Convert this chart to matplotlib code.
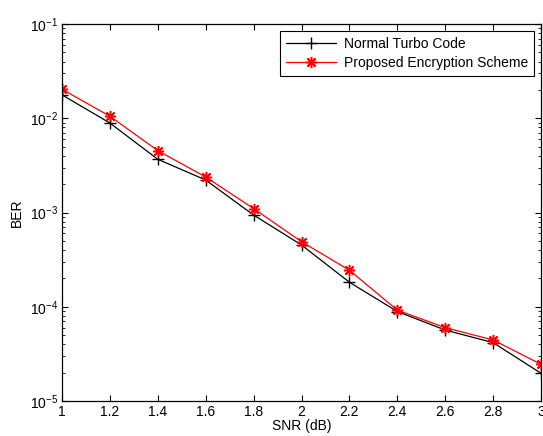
import matplotlib
matplotlib.use("Agg")
import matplotlib.pyplot as plt
import numpy as np
from matplotlib.ticker import LogLocator, FixedLocator, NullLocator

plt.rcParams['font.family'] = ['Liberation Sans', 'DejaVu Sans']

snr = [1.0, 1.2, 1.4, 1.6, 1.8, 2.0, 2.2, 2.4, 2.6, 2.8, 3.0]
ber_turbo = [1.77e-2, 8.9e-3, 3.67e-3, 2.21e-3, 9.4e-4, 4.52e-4, 1.82e-4, 8.9e-5, 5.66e-5, 4.16e-5, 1.97e-5]
ber_proposed = [2.03e-2, 1.05e-2, 4.53e-3, 2.38e-3, 1.1e-3, 4.9e-4, 2.44e-4, 9.2e-5, 6.0e-5, 4.44e-5, 2.45e-5]
xticks = [1, 1.2, 1.4, 1.6, 1.8, 2, 2.2, 2.4, 2.6, 2.8, 3]
xtick_labels = ['1', '1.2', '1.4', '1.6', '1.8', '2', '2.2', '2.4', '2.6', '2.8', '3']

fig = plt.figure(figsize=(5.43, 4.36), dpi=100)
ax = fig.add_axes([62/543, 1-401/436, 479/543, 377/436])

ax.semilogy(snr, ber_turbo, color='black', marker='+', markersize=8, markeredgewidth=1.0,
            linewidth=0.9, label='Normal Turbo Code')
ax.semilogy(snr, ber_proposed, color='red', marker=(8, 2, 0), markersize=8, markeredgewidth=1.1,
            linewidth=0.9, label='Proposed Encryption Scheme')

ax.set_xlim(1, 3)
ax.set_ylim(1e-5, 1e-1)
ax.xaxis.set_major_locator(FixedLocator(xticks))
ax.set_xticklabels(xtick_labels)
ax.xaxis.set_minor_locator(NullLocator())
ax.yaxis.set_major_locator(LogLocator(base=10, numticks=10))
ax.yaxis.set_minor_locator(LogLocator(base=10, subs=np.arange(2, 10), numticks=20))

ax.tick_params(which='both', direction='in', top=True, right=True, labelsize=10, pad=3)
ax.tick_params(which='major', length=4, width=0.8)
ax.tick_params(which='minor', length=2, width=0.6)
for s in ax.spines.values():
    s.set_linewidth(0.9)

ax.set_xlabel('SNR (dB)', fontsize=10, labelpad=0)
ax.set_ylabel('BER', fontsize=10, labelpad=4)

leg = ax.legend(loc='upper right', fontsize=10, fancybox=False, edgecolor='black',
                framealpha=1, borderaxespad=0.5, handlelength=3.6, handletextpad=0.6,
                borderpad=0.4, labelspacing=0.4)
leg.get_frame().set_linewidth(0.8)

fig.savefig('out.png', dpi=100)
